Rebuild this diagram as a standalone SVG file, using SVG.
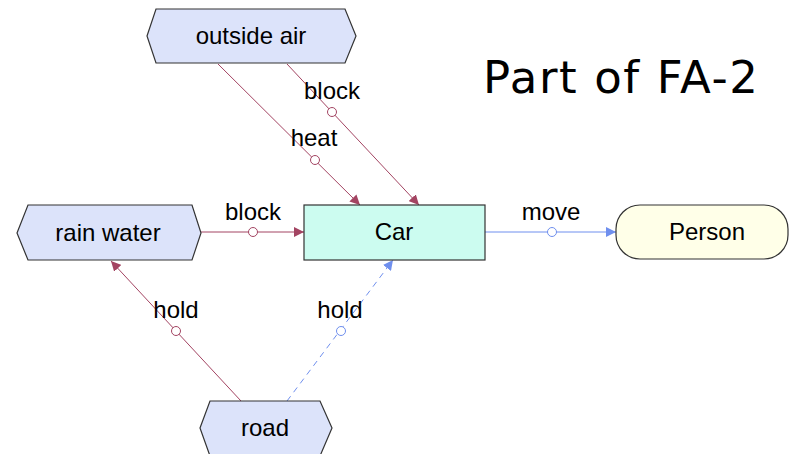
<svg xmlns="http://www.w3.org/2000/svg" width="790" height="454" viewBox="0 0 790 454">
<defs>
<style>
.node text{font-family:"Liberation Sans",Arial,sans-serif;font-size:24px;fill:#000;text-anchor:middle}
.hex{fill:#DCE3FA;stroke:#333;stroke-width:1.2}
.red{stroke:#A34462;stroke-width:1;fill:none}
.blue{stroke:#6F8FEE;stroke-width:1;fill:none}
.dash{stroke-dasharray:6,5}
.cr{fill:#fff;stroke:#A34462;stroke-width:1}
.cb{fill:#fff;stroke:#6F8FEE;stroke-width:1}
.lbl{font-family:"Liberation Sans",Arial,sans-serif;font-size:24px;fill:#000;text-anchor:middle}
</style>
<marker id="ar" viewBox="0 0 10 10" refX="10" refY="5" markerWidth="10" markerHeight="10" markerUnits="userSpaceOnUse" orient="auto"><path d="M0,0 L10,5 L0,10 z" fill="#A34462"/></marker>
<marker id="ab" viewBox="0 0 10 10" refX="10" refY="5" markerWidth="10" markerHeight="10" markerUnits="userSpaceOnUse" orient="auto"><path d="M0,0 L10,5 L0,10 z" fill="#6F8FEE"/></marker>
</defs>
<rect width="790" height="454" fill="#fff"/>
<g id="connectors">
<line class="red" x1="218" y1="64" x2="360" y2="205" marker-end="url(#ar)"/>
<circle class="cr" cx="315" cy="160" r="4.5"/>
<text class="lbl" x="314" y="146">heat</text>
<line class="red" x1="287" y1="64" x2="419" y2="205" marker-end="url(#ar)"/>
<circle class="cr" cx="332" cy="112" r="4.5"/>
<text class="lbl" x="332" y="99">block</text>
<line class="red" x1="201" y1="232" x2="304" y2="232" marker-end="url(#ar)"/>
<circle class="cr" cx="253" cy="232" r="4.5"/>
<text class="lbl" x="253" y="220">block</text>
<line class="blue" x1="485" y1="232" x2="616" y2="232" marker-end="url(#ab)"/>
<circle class="cb" cx="552" cy="232" r="4.5"/>
<text class="lbl" x="551" y="220">move</text>
<line class="red" x1="241" y1="401" x2="111" y2="261" marker-end="url(#ar)"/>
<circle class="cr" cx="176" cy="331" r="4.5"/>
<text class="lbl" x="176" y="318">hold</text>
<line class="blue dash" x1="287" y1="401" x2="393" y2="260" marker-end="url(#ab)"/>
<circle class="cb" cx="341" cy="331" r="4.5"/>
<text class="lbl" x="340" y="318">hold</text>
</g>
<g id="outside-air" class="node">
<polygon class="hex" points="147,36 156,9 345,9 356,36 345,63 156,63"/>
<text x="251" y="44">outside air</text>
</g>
<g id="rain-water" class="node">
<polygon class="hex" points="17,233 28,205 192,205 201,233 192,260 28,260"/>
<text x="108" y="241">rain water</text>
</g>
<g id="car" class="node">
<rect x="304" y="205" width="181" height="55" fill="#CCFCF0" stroke="#333" stroke-width="1.2"/>
<text x="394" y="240">Car</text>
</g>
<g id="person" class="node">
<rect x="616" y="205" width="172" height="54" rx="24" ry="24" fill="#FFFFE8" stroke="#333" stroke-width="1.2"/>
<text x="707" y="240">Person</text>
</g>
<g id="road" class="node">
<polygon class="hex" points="200,428 210,401 320,401 332,428 320,456 210,456"/>
<text x="265" y="436">road</text>
</g>
<text x="483" y="93" font-family="DejaVu Sans,Verdana,sans-serif" font-size="45" textLength="275" lengthAdjust="spacing" fill="#000">Part of FA-2</text>
</svg>
